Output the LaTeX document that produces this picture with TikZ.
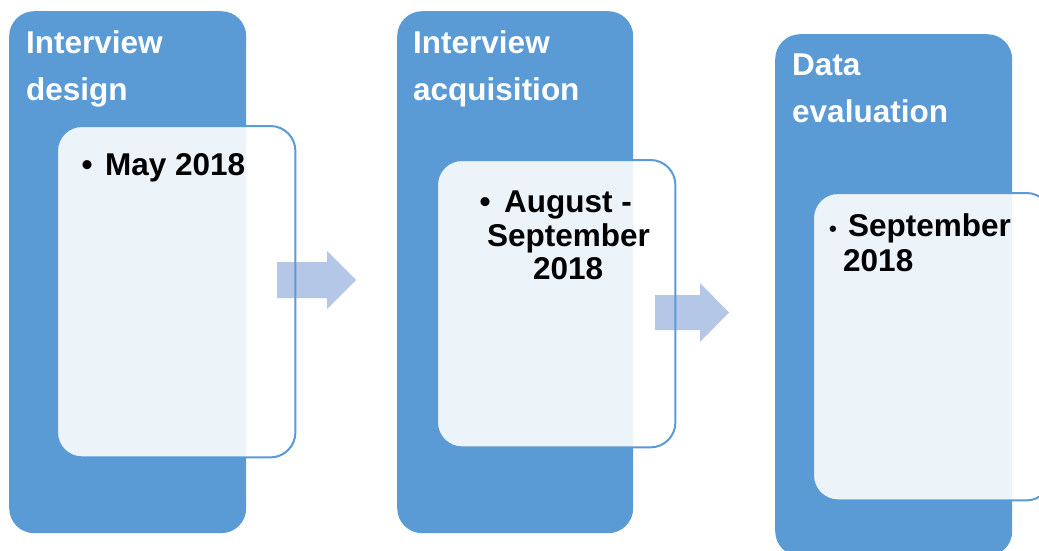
\documentclass[tikz,border=0pt]{standalone}
\usepackage{fontspec}
\setmainfont{Liberation Sans}
\definecolor{stageblue}{HTML}{5B9BD5}
\definecolor{arrowblue}{HTML}{B4C7E7}
\tikzset{
  stagebox/.style={anchor=north west, fill=stageblue, draw=none,
    rounded corners=25pt, inner sep=0pt},
  datebox/.style={anchor=north west, fill=white, fill opacity=0.89, draw=none,
    rounded corners=25pt, inner sep=0pt},
  dateline/.style={draw=stageblue, line width=2pt, rounded corners=25pt},
  flowarrow/.style={fill=arrowblue, draw=none},
  headtext/.style={anchor=base west, inner sep=0pt, text=white,
    font=\fontsize{31.5}{33}\selectfont\bfseries},
  datetext/.style={anchor=base west, inner sep=0pt, text=black,
    font=\fontsize{31.5}{33}\selectfont\bfseries},
  smallbullet/.style={anchor=base west, inner sep=0pt, text=black,
    font=\fontsize{22}{24}\selectfont\bfseries}
}
\begin{document}
\begin{tikzpicture}[x=1pt,y=-1pt]
\useasboundingbox (0,0) rectangle (1039,551);
\clip (0,0) rectangle (1039,551);
\fill[white] (0,0) rectangle (1039,551);

% stage panels
\node[stagebox, minimum width=237pt, minimum height=522pt] (s1) at (9,11) {};
\node[stagebox, minimum width=236pt, minimum height=522pt] (s2) at (397,11) {};
\node[stagebox, minimum width=237pt, minimum height=522pt] (s3) at (775,34) {};

% date cards (fill)
\node[datebox, minimum width=238pt, minimum height=331pt] (d1) at (57,126) {};
\node[datebox, minimum width=238pt, minimum height=287pt] (d2) at (437,160) {};
\node[datebox, minimum width=238pt, minimum height=307pt] (d3) at (813,193) {};

% block arrows between the stages
\coordinate (a1) at (277,262);
\coordinate (a2) at (655,295);
\fill[flowarrow] (a1) -- ++(50,0) -- ++(0,-11) -- ++(29,29) -- ++(-29,29)
  -- ++(0,-11) -- ++(-50,0) -- cycle;
\fill[flowarrow] (a2) -- ++(45,0) -- ++(0,-12) -- ++(29,29.5) -- ++(-29,29.5)
  -- ++(0,-12) -- ++(-45,0) -- cycle;

% date card outlines
\draw[dateline] (d1.north west) rectangle (d1.south east);
\draw[dateline] (d2.north west) rectangle (d2.south east);
\draw[dateline] (d3.north west) rectangle (d3.south east);

% stage headings
\node[headtext] (h1a) at (26,54) {Interview};
\node[headtext] (h1b) at (26,100) {design};
\node[headtext] (h2a) at (413,54) {Interview};
\node[headtext] (h2b) at (413,100) {acquisition};
\node[headtext] (h3a) at (792,76) {Data};
\node[headtext] (h3b) at (792,122) {evaluation};

% dates
\node[datetext] (b1) at (81.5,175) {•};
\node[datetext] (t1) at (105,175) {May 2018};

\node[datetext] (b2) at (479.5,212) {•};
\node[datetext] (t2a) at (504,212) {August -};
\node[datetext] (t2b) at (487,246) {September};
\node[datetext] (t2c) at (533,279) {2018};

\node[smallbullet] (b3) at (829,236) {•};
\node[datetext] (t3a) at (848,236) {September};
\node[datetext] (t3b) at (843,271) {2018};
\end{tikzpicture}
\end{document}
